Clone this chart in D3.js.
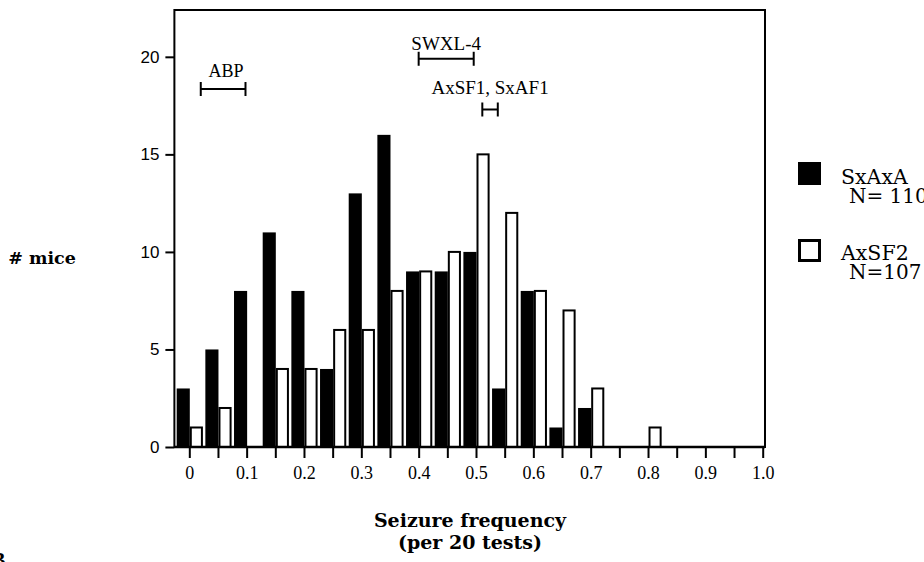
<!DOCTYPE html>
<html>
<head>
<meta charset="utf-8">
<script src="https://cdn.jsdelivr.net/npm/d3@7"></script>
<style>
  body { margin: 0; background: #fff; }
  svg { display: block; }
  .serif { font-family: "Liberation Serif", "DejaVu Serif", serif; }
  .wide { font-family: "DejaVu Serif", "Liberation Serif", serif; }
  .sans { font-family: "Liberation Sans", "DejaVu Sans", sans-serif; }
</style>
</head>
<body>
<svg width="924" height="562"></svg>
<script>
// seizure frequency bins (per 20 tests)
const bins = [0, 0.05, 0.1, 0.15, 0.2, 0.25, 0.3, 0.35, 0.4, 0.45, 0.5, 0.55, 0.6, 0.65, 0.7, 0.75, 0.8];
const sxaxa = [3, 5, 8, 11, 8, 4, 13, 16, 9, 9, 10, 3, 8, 1, 2, 0, 0];
const axsf2 = [1, 2, 0, 4, 4, 6, 6, 8, 9, 10, 15, 12, 8, 7, 3, 0, 1];
const seriesNames = ['SxAxA', 'AxSF2'];
const seriesN = ['N= 110', 'N=107'];
const xTickLabels = ['0', '0.1', '0.2', '0.3', '0.4', '0.5', '0.6', '0.7', '0.8', '0.9', '1.0'];
const yTicks = [0, 5, 10, 15, 20];
// strain ranges drawn as brackets
const rangeNames = ['ABP', 'SWXL-4', 'AxSF1, SxAF1'];
const rangeLo = [0.02, 0.40, 0.511];
const rangeHi = [0.098, 0.496, 0.538];

const svg = d3.select('svg');
const x = d3.scaleLinear().domain([0, 1]).range([189.3, 762.7]);
const y = d3.scaleLinear().domain([0, 22.4]).range([447, 10]);
const bw = 0.022;

// frame
svg.append('rect')
   .attr('x', x(-0.026)).attr('y', y(22.4))
   .attr('width', x(1.004) - x(-0.026)).attr('height', y(0) - y(22.4))
   .attr('fill', 'none').attr('stroke', '#000').attr('stroke-width', 2);

// bars
const g = svg.append('g');
g.selectAll('rect.black')
 .data(bins.map((b, i) => ({b: b, v: sxaxa[i]})).filter(d => d.v > 0))
 .enter().append('rect')
 .attr('class', 'black')
 .attr('x', d => x(d.b - bw))
 .attr('width', d => x(bw) - x(0) + 0.5)
 .attr('y', d => y(d.v))
 .attr('height', d => y(0) - y(d.v))
 .attr('fill', '#000');
g.selectAll('rect.white')
 .data(bins.map((b, i) => ({b: b, v: axsf2[i]})).filter(d => d.v > 0))
 .enter().append('rect')
 .attr('class', 'white')
 .attr('x', d => x(d.b) + 1.5)
 .attr('width', d => x(bw) - x(0) - 1.5)
 .attr('y', d => y(d.v))
 .attr('height', d => y(0) - y(d.v))
 .attr('fill', '#fff').attr('stroke', '#000').attr('stroke-width', 2);

// baseline
svg.append('line')
   .attr('x1', x(-0.026)).attr('x2', x(1.004))
   .attr('y1', y(0)).attr('y2', y(0))
   .attr('stroke', '#000').attr('stroke-width', 2.5);

// x axis
const xTickVals = d3.range(0, 21).map(i => i * 0.05);
const xAxis = d3.axisBottom(x)
  .tickValues(xTickVals)
  .tickSize(11)
  .tickPadding(8)
  .tickFormat((d, i) => i % 2 === 0 ? xTickLabels[i / 2] : '');
const xg = svg.append('g').attr('transform', 'translate(0,' + y(0) + ')').call(xAxis);
xg.select('.domain').remove();
xg.selectAll('.tick line').attr('stroke-width', 2);
xg.selectAll('.tick text').attr('class', 'serif').attr('font-size', 18).attr('fill', '#000');

// y axis
const yAxis = d3.axisLeft(y).tickValues(yTicks).tickSize(9).tickPadding(6);
const yg = svg.append('g').attr('transform', 'translate(' + x(-0.026) + ',0)').call(yAxis);
yg.select('.domain').remove();
yg.selectAll('.tick line').attr('stroke-width', 2);
yg.selectAll('.tick text').attr('class', 'sans').attr('font-size', 17).attr('fill', '#000');

// range brackets
const bracketLevel = [18.35, 19.9, 17.3];
const labelGap = [12, 9, 15];
rangeNames.forEach((name, i) => {
  const by = y(bracketLevel[i]);
  const br = svg.append('g').attr('stroke', '#000').attr('stroke-width', 2);
  br.append('line').attr('x1', x(rangeLo[i])).attr('x2', x(rangeHi[i])).attr('y1', by).attr('y2', by);
  br.append('line').attr('x1', x(rangeLo[i])).attr('x2', x(rangeLo[i])).attr('y1', by - 7).attr('y2', by + 7);
  br.append('line').attr('x1', x(rangeHi[i])).attr('x2', x(rangeHi[i])).attr('y1', by - 7).attr('y2', by + 7);
  svg.append('text').attr('class', 'serif')
     .attr('x', x((rangeLo[i] + rangeHi[i]) / 2) + (i === 0 ? 3 : 0)).attr('y', by - labelGap[i])
     .attr('text-anchor', 'middle').attr('font-size', i === 0 ? 18 : 19)
     .text(name);
});

// axis titles
svg.append('text').attr('class', 'wide')
   .attr('x', 42).attr('y', 264).attr('text-anchor', 'middle')
   .attr('font-size', 17.5).attr('font-weight', 'bold').text('# mice');
svg.append('text').attr('class', 'wide')
   .attr('x', 470).attr('y', 527).attr('text-anchor', 'middle')
   .attr('font-size', 19).attr('font-weight', 'bold').text('Seizure frequency');
svg.append('text').attr('class', 'wide')
   .attr('x', 470).attr('y', 549).attr('text-anchor', 'middle')
   .attr('font-size', 19).attr('font-weight', 'bold').text('(per 20 tests)');

// panel letter, mostly off the page
svg.append('text').attr('class', 'serif')
   .attr('x', -8).attr('y', 567)
   .attr('font-size', 20).attr('font-weight', 'bold').text('B');

// legend
const legendTop = [162, 239];
seriesNames.forEach((name, i) => {
  const lg = svg.append('g').attr('transform', 'translate(798,' + legendTop[i] + ')');
  if (i === 0) {
    lg.append('rect').attr('width', 23).attr('height', 23).attr('fill', '#000');
  } else {
    lg.append('rect').attr('x', 1.5).attr('y', 1.5).attr('width', 20).attr('height', 20)
      .attr('fill', '#fff').attr('stroke', '#000').attr('stroke-width', 3);
  }
  lg.append('text').attr('class', 'wide').attr('x', 43).attr('y', 22 - i)
    .attr('font-size', 20.5).text(name);
  lg.append('text').attr('class', 'wide').attr('x', 51).attr('y', 41 - i)
    .attr('font-size', 20).text(seriesN[i]);
});
</script>
</body>
</html>
